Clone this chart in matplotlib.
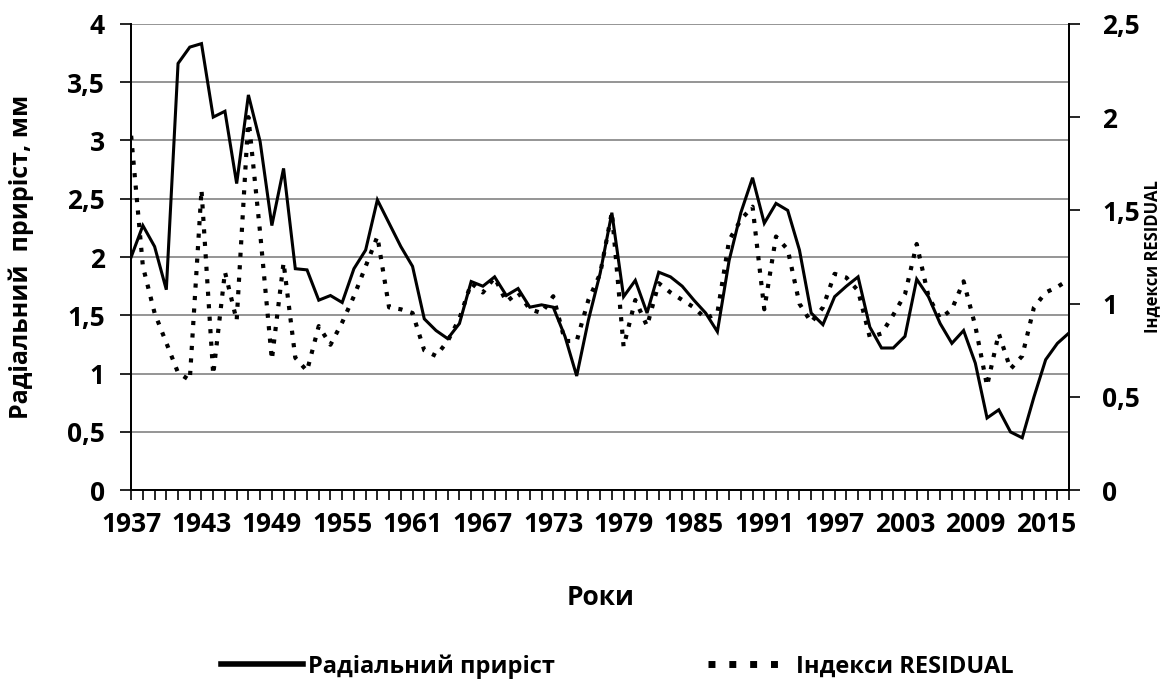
import matplotlib
matplotlib.use("Agg")
import matplotlib.pyplot as plt
import numpy as np

plt.rcParams['font.family'] = ['Open Sans', 'DejaVu Sans']
plt.rcParams['font.weight'] = 'bold'

# years 1937-2017
years = list(range(1937, 2018))

# radial increment, mm (left axis)
radial = [2.00, 2.27, 2.09, 1.72, 3.66, 3.80, 3.83, 3.20, 3.25, 2.63,
          3.39, 2.99, 2.27, 2.76, 1.90, 1.89, 1.63, 1.67, 1.61, 1.90,
          2.06, 2.49, 2.29, 2.09, 1.92, 1.47, 1.37, 1.30, 1.43, 1.79,
          1.75, 1.83, 1.67, 1.73, 1.57, 1.59, 1.57, 1.32, 0.98, 1.46,
          1.86, 2.38, 1.66, 1.80, 1.52, 1.87, 1.83, 1.75, 1.63, 1.52,
          1.36, 1.97, 2.38, 2.68, 2.29, 2.46, 2.40, 2.06, 1.52, 1.42,
          1.66, 1.75, 1.83, 1.40, 1.22, 1.22, 1.32, 1.81, 1.66, 1.43,
          1.26, 1.37, 1.09, 0.62, 0.69, 0.50, 0.45, 0.80, 1.12, 1.26,
          1.35]

# RESIDUAL index (right axis)
residual = [1.90, 1.20, 0.95, 0.79, 0.63, 0.59, 1.61, 0.62, 1.17, 0.91,
            2.00, 1.38, 0.70, 1.22, 0.71, 0.64, 0.88, 0.78, 0.90, 1.04,
            1.20, 1.36, 0.98, 0.97, 0.95, 0.75, 0.72, 0.80, 0.92, 1.11,
            1.06, 1.14, 1.01, 1.06, 0.97, 0.95, 1.04, 0.80, 0.80, 1.02,
            1.16, 1.49, 0.77, 1.02, 0.88, 1.11, 1.06, 1.02, 0.98, 0.92,
            0.95, 1.34, 1.45, 1.52, 0.97, 1.36, 1.29, 1.00, 0.90, 0.98,
            1.16, 1.14, 1.07, 0.82, 0.84, 0.94, 1.05, 1.32, 1.04, 0.92,
            0.97, 1.12, 0.88, 0.56, 0.84, 0.65, 0.72, 0.98, 1.06, 1.09,
            1.13]

left_ticks = [0, 0.5, 1, 1.5, 2, 2.5, 3, 3.5, 4]
right_ticks = [0, 0.5, 1, 1.5, 2, 2.5]


def comma(v):
    return f"{v:g}".replace('.', ',')


fig = plt.figure(figsize=(11.71, 6.8), dpi=100)
fig.subplots_adjust(left=0.112, right=0.913, top=0.965, bottom=0.279)
ax = fig.add_subplot(111)

for t in left_ticks[1:]:
    ax.axhline(t, color='#8c8c8c', lw=1.3, zorder=0)

l1, = ax.plot(years, radial, color='black', lw=2.2, solid_joinstyle='miter',
              label='Радіальний приріст', zorder=3)

ax2 = ax.twinx()
l2, = ax2.plot(years, residual, color='black', lw=3.0,
               linestyle=(0, (1.0, 2.0)), dash_capstyle='butt',
               label='Індекси RESIDUAL', zorder=4)

ax.set_xlim(1937, 2017)
ax.set_ylim(0, 4)
ax2.set_ylim(0, 2.5)

ax.set_xticks(years)
ax.set_xticklabels([str(y) if (y - 1937) % 6 == 0 else '' for y in years])
ax.set_yticks(left_ticks)
ax.set_yticklabels([comma(v) for v in left_ticks])
ax2.set_yticks(right_ticks)
ax2.set_yticklabels([comma(v) for v in right_ticks])

ax.tick_params(axis='x', direction='out', length=7, width=1.2,
               labelsize=19, pad=8)
ax.tick_params(axis='y', direction='out', length=8, width=1.2,
               labelsize=19, pad=11)
ax2.tick_params(axis='y', direction='out', length=8, width=1.2,
                labelsize=19, pad=16)

for a in (ax, ax2):
    a.spines['top'].set_visible(False)
    for s in ('left', 'right', 'bottom'):
        a.spines[s].set_linewidth(1.3)

ax.set_xlabel('Роки', fontsize=19, fontweight='bold', labelpad=33)
ax.set_ylabel('Радіальний  приріст, мм', fontsize=18, fontweight='bold',
              labelpad=24)
ax2.set_ylabel('Індекси RESIDUAL', fontsize=12, fontweight='bold',
               labelpad=2)

leg = fig.legend(handles=[l1, l2], loc='center', bbox_to_anchor=(0.527, 0.02),
                 ncol=2, frameon=False, fontsize=17, handlelength=3.5,
                 handletextpad=0.2, columnspacing=6.5)
leg.get_lines()[0].set_linewidth(4)
leg.get_lines()[1].set_linewidth(5)
leg.get_lines()[1].set_linestyle((0, (1.0, 2.0)))

fig.savefig('out.png', dpi=100)
